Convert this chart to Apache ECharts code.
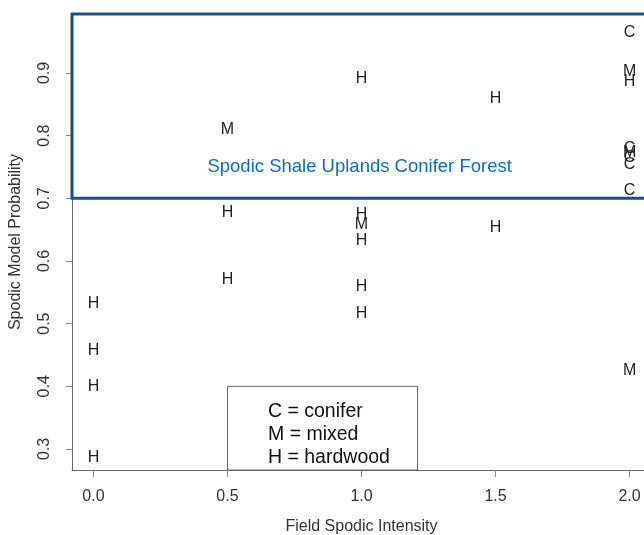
<!DOCTYPE html>
<html>
<head>
<meta charset="utf-8">
<script src="https://cdn.jsdelivr.net/npm/echarts@6/dist/echarts.min.js"></script>
<style>
html,body{margin:0;padding:0;background:#fff;}
#c{width:644px;height:535px;}
</style>
</head>
<body>
<div id="c"></div>
<script>
// ---- data ----
const xVals = [0, 0, 0, 0, 0.5, 0.5, 0.5, 1, 1, 1, 1, 1, 1, 1.5, 1.5, 2, 2, 2, 2, 2, 2, 2, 2, 2];
const yVals = [0.535, 0.46, 0.402, 0.289, 0.812, 0.68, 0.574, 0.894, 0.677, 0.662, 0.635, 0.562, 0.52, 0.862, 0.656, 0.967, 0.906, 0.889, 0.782, 0.776, 0.768, 0.757, 0.715, 0.428];
const types = ['H', 'H', 'H', 'H', 'M', 'H', 'H', 'H', 'H', 'M', 'H', 'H', 'H', 'H', 'H', 'C', 'M', 'H', 'C', 'M', 'C', 'C', 'C', 'M'];
const xTicks = [0, 0.5, 1, 1.5, 2];
const yTicks = [0.3, 0.4, 0.5, 0.6, 0.7, 0.8, 0.9];
const xTitle = 'Field Spodic Intensity';
const yTitle = 'Spodic Model Probability';
const annotText = 'Spodic Shale Uplands Conifer Forest';
const annotX = 0.993, annotY = 0.753;
const forestBox = [[-0.086, 0.7], [2.3, 0.994]];
const legendLines = ['C = conifer', 'M = mixed', 'H = hardwood'];
const legendBox = [[0.5, 0.4], [1.209, 0.2665]];
const xMin = -0.08, xMax = 2.08, yMin = 0.2665, yMax = 0.994;

const FONT = '"Liberation Sans", Arial, Helvetica, sans-serif';
const chart = echarts.init(document.getElementById('c'), null, {renderer: 'canvas'});
const pts = xVals.map((x, i) => [x, yVals[i], types[i]]);

chart.setOption({
  animation: false,
  backgroundColor: '#fff',
  textStyle: {fontFamily: FONT},
  grid: {left: 72, top: 14, width: 579, height: 456, containLabel: false, outerBoundsMode: 'none'},
  xAxis: {
    type: 'value', min: xMin, max: xMax,
    name: xTitle, nameLocation: 'middle', nameGap: 49,
    nameTextStyle: {fontFamily: FONT, fontSize: 16, color: '#333'},
    axisLine: {show: true, onZero: false, lineStyle: {color: '#666', width: 1}},
    axisTick: {show: true, inside: false, length: 7, customValues: xTicks, lineStyle: {color: '#888'}},
    axisLabel: {show: true, customValues: xTicks, margin: 19, fontFamily: FONT, fontSize: 16, color: '#333',
      formatter: v => v.toFixed(1)},
    splitLine: {show: false}
  },
  yAxis: {
    type: 'value', min: yMin, max: yMax,
    name: yTitle, nameLocation: 'middle', nameGap: 48, nameRotate: 90,
    nameTextStyle: {fontFamily: FONT, fontSize: 16, color: '#333'},
    axisLine: {show: true, onZero: false, lineStyle: {color: '#666', width: 1}},
    axisTick: {show: true, inside: false, length: 6, customValues: yTicks, lineStyle: {color: '#888'}},
    axisLabel: {show: true, customValues: yTicks, rotate: 90, margin: 19, fontFamily: FONT, fontSize: 16, color: '#333',
      formatter: v => v.toFixed(1)},
    splitLine: {show: false}
  },
  series: [
    {
      type: 'scatter',
      clip: false,
      z: 1,
      data: [],
      markArea: {
        silent: true,
        data: [
          [{coord: legendBox[0], itemStyle: {color: '#fff', borderColor: '#666', borderWidth: 1, opacity: 1},
            label: {show: true, position: 'insideTopLeft', distance: 0, padding: [14, 0, 0, 41],
              formatter: legendLines.join('\n'), fontFamily: FONT, fontSize: 19.5, lineHeight: 23, color: '#111'}},
           {coord: legendBox[1]}],
          [{coord: forestBox[0], itemStyle: {color: 'rgba(0,0,0,0)', borderColor: '#1F4E79', borderWidth: 3, opacity: 1},
            label: {show: false}},
           {coord: forestBox[1]}]
        ]
      }
    },
    {
      type: 'scatter',
      z: 5,
      clip: false,
      symbolSize: 1,
      itemStyle: {color: 'rgba(0,0,0,0)', opacity: 1},
      data: pts,
      label: {show: true, position: 'inside', offset: [0, 2], formatter: p => p.data[2],
        fontFamily: FONT, fontSize: 16, color: '#222'}
    },
    {
      type: 'scatter',
      z: 5,
      clip: false,
      symbolSize: 1,
      itemStyle: {color: 'rgba(0,0,0,0)', opacity: 1},
      data: [[annotX, annotY, annotText]],
      label: {show: true, position: 'inside', offset: [0, 2], formatter: p => p.data[2],
        fontFamily: FONT, fontSize: 18.5, color: '#0F6DC0'}
    }
  ]
});
</script>
</body>
</html>
